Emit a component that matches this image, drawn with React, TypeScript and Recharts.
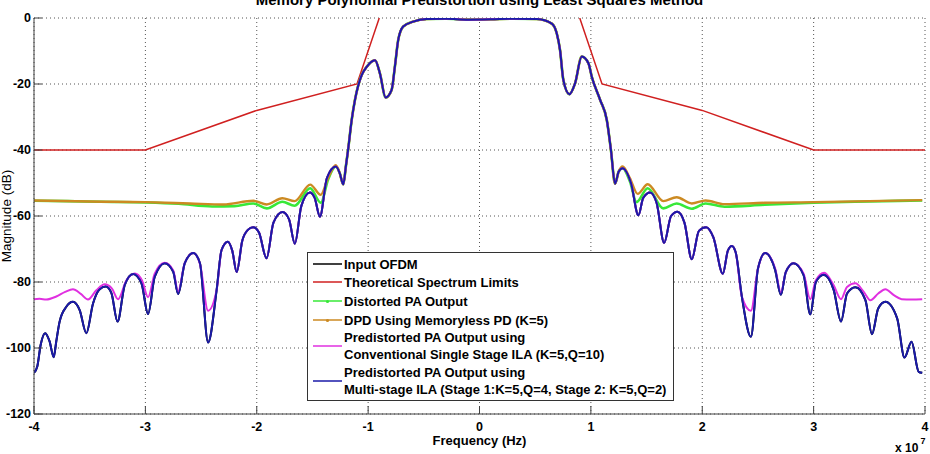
import React from 'react';
import { LineChart, Line, XAxis, YAxis, CartesianGrid, Legend } from 'recharts';

type Pt = [number, number | null];

// Axis ticks (frequency in units of 1e7 Hz, magnitude in dB)
const freqTicks = [-4, -3, -2, -1, 0, 1, 2, 3, 4];
const magTicks = [-120, -100, -80, -60, -40, -20, 0];

// Theoretical spectrum mask
const spectrumLimits: Pt[] = [
  [-4, -40], [-3, -40], [-2, -28], [-1.1, -20], [-0.9, 0], [0, null],
  [0.9, 0], [1.1, -20], [2, -28], [3, -40], [4, -40],
];

// Shared in-band region (all measured outputs coincide here)
const bandPts: Pt[] = [
  [-1.255, -47], [-1.223, -50.4], [-1.2, -45], [-1.18, -40], [-1.148, -31],
  [-1.118, -24.8], [-1.058, -17.3], [-1.013, -14.8], [-0.938, -12.8], [-0.894, -16.8],
  [-0.843, -24.1], [-0.789, -21.8], [-0.76, -14.8], [-0.73, -6.7], [-0.685, -2.6],
  [-0.595, -1.1], [-0.474, -0.3], [-0.3, -0.2], [-0.1, -0.5], [0.1, -0.4],
  [0.3, -0.2], [0.514, -0.3], [0.649, -1.7], [0.694, -4.7], [0.723, -9.7],
  [0.753, -18.8], [0.807, -23.1], [0.858, -19.8], [0.918, -11.7], [0.978, -13.7],
  [1.008, -17.8], [1.083, -24.8], [1.143, -30.9], [1.18, -40], [1.217, -50.2],
  [1.25, -46.5],
];

// Multi-stage ILA output (blue) outer regions
const multiFarLeft: Pt[] = [
  [-4.0, -107.5], [-3.97, -105.5], [-3.94, -99], [-3.9, -95.5], [-3.86, -98],
  [-3.823, -102.8], [-3.8, -98], [-3.77, -92], [-3.71, -87.5], [-3.65, -86],
  [-3.59, -88.5], [-3.53, -95.5], [-3.47, -86.5], [-3.41, -82.2], [-3.356, -81.4],
  [-3.305, -83.4], [-3.25, -92], [-3.185, -80.9], [-3.11, -77.6], [-3.035, -80.4],
  [-2.976, -89.7], [-2.916, -78.4], [-2.826, -74.3], [-2.75, -76.9], [-2.706, -83.6],
  [-2.646, -74.3], [-2.57, -71.2], [-2.51, -74.3], [-2.437, -98.3],
];
const multiNearLeft: Pt[] = [
  [-2.36, -82.4], [-2.316, -70.3], [-2.26, -67.8], [-2.22, -70.5], [-2.18, -77],
  [-2.13, -67.5], [-2.08, -64.2], [-2.032, -63.4], [-1.98, -65], [-1.912, -72.8],
  [-1.85, -62], [-1.768, -58.8], [-1.71, -61], [-1.658, -68.4], [-1.6, -57],
  [-1.523, -52.9], [-1.48, -54.5], [-1.433, -60.2], [-1.37, -48.5], [-1.29, -45],
];
const multiNearRight: Pt[] = [
  [1.285, -45.5], [1.36, -50], [1.427, -59.8], [1.47, -54.5], [1.532, -52.9],
  [1.59, -56], [1.658, -68.1], [1.72, -60], [1.777, -58.7], [1.84, -62],
  [1.906, -73.1], [1.97, -64.5], [2.035, -63.4], [2.1, -66.5], [2.185, -77.5],
  [2.23, -70.5], [2.266, -69.1], [2.3, -71], [2.356, -84.5],
];
const multiFarRight: Pt[] = [
  [2.437, -96.6], [2.5, -76], [2.565, -71.2], [2.655, -76.4], [2.706, -83.9],
  [2.75, -77], [2.82, -74.3], [2.91, -77.9], [2.97, -89.8], [3.02, -80],
  [3.09, -77.8], [3.18, -82.4], [3.246, -92], [3.3, -83.5], [3.375, -81.6],
  [3.465, -85.5], [3.524, -95.8], [3.58, -88], [3.644, -86], [3.75, -91],
  [3.816, -102.9], [3.879, -98.1], [3.943, -107.2], [3.975, -107.5],
];

// Conventional single-stage ILA output (magenta) outer regions
const singleFarLeft: Pt[] = [
  [-4.0, -85.2], [-3.95, -85.1], [-3.89, -85.3], [-3.8, -84.4], [-3.72, -83],
  [-3.65, -82.2], [-3.58, -83.6], [-3.515, -85.3], [-3.44, -82.5], [-3.365, -80.7],
  [-3.3, -82], [-3.245, -85.2], [-3.17, -79.5], [-3.095, -77.4], [-3.03, -79.5],
  [-2.976, -84.6], [-2.916, -77.5], [-2.826, -74.2], [-2.75, -76.5], [-2.706, -82.9],
  [-2.646, -74.2], [-2.57, -71.2], [-2.51, -74.5], [-2.437, -88.7],
];
const singleFarRight: Pt[] = [
  [2.437, -88.7], [2.5, -76], [2.565, -71.2], [2.655, -76], [2.706, -83.2],
  [2.75, -77], [2.82, -74.3], [2.91, -77.5], [2.97, -85.2], [3.02, -79.5],
  [3.095, -77.2], [3.18, -81], [3.246, -85.2], [3.3, -81.5], [3.375, -80.4],
  [3.45, -83], [3.51, -85.5], [3.58, -83.5], [3.644, -82.2], [3.72, -84],
  [3.79, -85.2], [3.88, -85.3], [3.975, -85.2],
];

// Distorted PA output (green) outer regions
const distortedLeft: Pt[] = [
  [-4.0, -55.4], [-3.7, -55.5], [-3.4, -55.7], [-3.0, -55.9], [-2.7, -56.3],
  [-2.4, -57.1], [-2.2, -57], [-2.03, -56.2], [-1.91, -57.7], [-1.77, -55.7],
  [-1.66, -56.9], [-1.52, -51.6], [-1.425, -56], [-1.36, -49], [-1.29, -45],
];
const distortedRight: Pt[] = [
  [1.285, -45.5], [1.35, -49.5], [1.41, -55.8], [1.51, -51.6], [1.65, -57.7],
  [1.77, -56.2], [1.906, -57.8], [2.03, -56.2], [2.2, -57.2], [2.56, -56.6],
  [3.0, -56], [3.5, -55.6], [3.975, -55.3],
];

// Memoryless DPD output (orange) outer regions
const memorylessLeft: Pt[] = [
  [-4.0, -55.3], [-3.5, -55.6], [-3.0, -55.8], [-2.6, -56.2], [-2.3, -56.5],
  [-2.03, -55.4], [-1.91, -56.5], [-1.77, -54.6], [-1.66, -55.5], [-1.52, -50.5],
  [-1.425, -53.6], [-1.36, -48.5], [-1.29, -44.6],
];
const memorylessRight: Pt[] = [
  [1.285, -45], [1.35, -48.5], [1.42, -53.3], [1.51, -50.4], [1.65, -55.5],
  [1.77, -54.3], [1.906, -56.2], [2.03, -55.3], [2.2, -56.4], [2.56, -56],
  [3.0, -55.8], [3.5, -55.5], [3.975, -55.2],
];

const toRows = (...parts: Pt[][]) =>
  parts.flat().map(([f, v]) => ({ f, v }));

const multiStage = toRows(multiFarLeft, multiNearLeft, bandPts, multiNearRight, multiFarRight);
const inputOfdm = multiStage;
const singleStage = toRows(singleFarLeft, multiNearLeft, bandPts, multiNearRight, singleFarRight);
const distorted = toRows(distortedLeft, bandPts, distortedRight);
const memoryless = toRows(memorylessLeft, bandPts, memorylessRight);
const limits = toRows(spectrumLimits);

const COLORS = {
  black: '#000000',
  red: '#d02020',
  green: '#38e838',
  orange: '#cc8a22',
  magenta: '#e030e0',
  blue: '#1a1aa8',
};

const FONT = '"Liberation Sans", Arial, sans-serif';

const legendItems = [
  { color: COLORS.black, lines: ['Input OFDM'], y: 12, marker: false },
  { color: COLORS.red, lines: ['Theoretical Spectrum Limits'], y: 30, marker: false },
  { color: COLORS.green, lines: ['Distorted PA Output'], y: 49, marker: true },
  { color: COLORS.orange, lines: ['DPD Using Memoryless PD (K=5)'], y: 68, marker: true },
  { color: COLORS.magenta, lines: ['Predistorted PA Output using', 'Conventional Single Stage ILA (K=5,Q=10)'], y: 94, marker: false },
  { color: COLORS.blue, lines: ['Predistorted PA Output using', 'Multi-stage ILA (Stage 1:K=5,Q=4, Stage 2: K=5,Q=2)'], y: 129, marker: false },
];

const renderLegend = () => (
  <svg width={368} height={150} style={{ display: 'block' }}>
    <rect x={0.5} y={0.5} width={366} height={148} fill="#fff" stroke="#333" strokeWidth={1} />
    {legendItems.map((it, i) => {
      const n = it.lines.length;
      return (
        <g key={i}>
          <line x1={6} x2={35} y1={it.y} y2={it.y} stroke={it.color} strokeWidth={1.5} />
          {it.marker && <circle cx={20.5} cy={it.y + 0.5} r={1.6} fill={it.color} />}
          {it.lines.map((t, j) => (
            <text
              key={j}
              x={37}
              y={it.y + 4.5 + (j - (n - 1) / 2) * 17}
              fontFamily={FONT}
              fontWeight="bold"
              fontSize={13}
              fill="#000"
            >
              {t}
            </text>
          ))}
        </g>
      );
    })}
  </svg>
);

const tickStyle = { fontFamily: FONT, fontWeight: 'bold' as const, fontSize: 12.5, fill: '#000' };

export default function App() {
  return (
    <div style={{ position: 'absolute', left: 0, top: 0, width: 930, height: 454, background: '#fff' }}>
      <LineChart width={930} height={454} margin={{ top: 18, right: 5, bottom: 0, left: 0 }}>
        <CartesianGrid stroke="#555" strokeDasharray="1 3" strokeWidth={1} />
        <XAxis
          dataKey="f"
          type="number"
          domain={[-4, 4]}
          ticks={freqTicks}
          allowDataOverflow
          height={40}
          tickSize={-8}
          tickMargin={16}
          tick={tickStyle}
          stroke="#404040"
          axisLine={{ stroke: '#404040' }}
          tickLine={{ stroke: '#404040' }}
        />
        <XAxis
          xAxisId="top"
          orientation="top"
          dataKey="f"
          type="number"
          domain={[-4, 4]}
          ticks={freqTicks}
          height={0}
          tickSize={-8}
          tick={false}
          axisLine={{ stroke: '#404040' }}
          tickLine={{ stroke: '#404040' }}
        />
        <YAxis
          type="number"
          domain={[-120, 0]}
          ticks={magTicks}
          allowDataOverflow
          width={34}
          tickSize={-8}
          tickMargin={11}
          tick={tickStyle}
          axisLine={{ stroke: '#404040' }}
          tickLine={{ stroke: '#404040' }}
        />
        <YAxis
          yAxisId="right"
          orientation="right"
          type="number"
          domain={[-120, 0]}
          ticks={magTicks}
          width={0}
          tickSize={-8}
          tick={false}
          axisLine={{ stroke: '#404040' }}
          tickLine={{ stroke: '#404040' }}
        />
        <Line data={inputOfdm} dataKey="v" type="monotone" stroke={COLORS.black} strokeWidth={2} dot={false} isAnimationActive={false} />
        <Line data={limits} dataKey="v" type="linear" stroke={COLORS.red} strokeWidth={1.5} dot={false} connectNulls={false} isAnimationActive={false} />
        <Line data={distorted} dataKey="v" type="monotone" stroke={COLORS.green} strokeWidth={2.6} dot={false} isAnimationActive={false} />
        <Line data={memoryless} dataKey="v" type="monotone" stroke={COLORS.orange} strokeWidth={2.4} dot={false} isAnimationActive={false} />
        <Line data={singleStage} dataKey="v" type="monotone" stroke={COLORS.magenta} strokeWidth={2} dot={false} isAnimationActive={false} />
        <Line data={multiStage} dataKey="v" type="monotone" stroke={COLORS.blue} strokeWidth={2} dot={false} isAnimationActive={false} />
        <Legend
          content={renderLegend}
          layout="vertical"
          align="center"
          verticalAlign="middle"
          wrapperStyle={{ left: 307, top: 252, width: 368, height: 150 }}
        />
        <text x={479.5} y={5} textAnchor="middle" fontFamily={FONT} fontWeight="bold" fontSize={15} fill="#000">
          Memory Polynomial Predistortion using Least Squares Method
        </text>
        <text x={479.5} y={445} textAnchor="middle" fontFamily={FONT} fontWeight="bold" fontSize={13} fill="#000">
          Frequency (Hz)
        </text>
        <text x={11} y={216} transform="rotate(-90 11 216)" textAnchor="middle" fontFamily={FONT} fontSize={13.5} fill="#000">
          Magnitude (dB)
        </text>
        <text x={895} y={451.5} fontFamily={FONT} fontWeight="bold" fontSize={12} fill="#000">
          x 10
          <tspan x={920.5} y={444} fontSize={9}>7</tspan>
        </text>
      </LineChart>
    </div>
  );
}
